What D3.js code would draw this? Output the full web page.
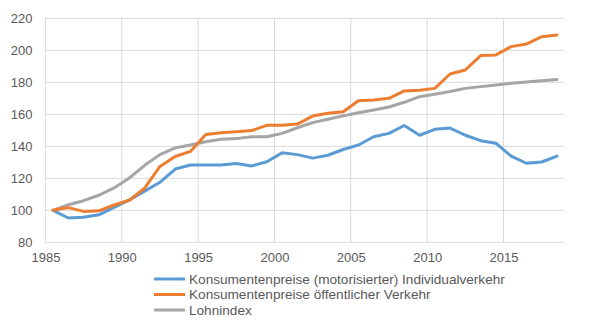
<!DOCTYPE html>
<html><head><meta charset="utf-8">
<script src="https://cdn.jsdelivr.net/npm/d3@7"></script>
<style>body{margin:0;background:#fff}svg{display:block}</style>
</head><body>
<svg id="c" width="590" height="327"></svg>
<script>
const years = d3.range(1985, 2019);
const individualverkehr = [100, 95.2, 95.6, 97.2, 101.8, 106.5, 112, 117.5, 125.8, 128.3, 128.3, 128.3, 129.2, 127.7, 130.3, 135.9, 134.8, 132.6, 134.4, 138, 140.8, 146, 148.1, 153, 146.9, 150.6, 151.4, 146.9, 143.5, 141.9, 133.9, 129.4, 130.2, 133.9];
const oeffentlich = [100, 101.7, 99.3, 99.7, 103.3, 106.3, 113.8, 127.4, 133.6, 136.8, 147.4, 148.5, 149.1, 149.8, 153.1, 153.1, 153.9, 158.9, 160.6, 161.6, 168.5, 168.9, 170, 174.6, 175, 176.2, 185.2, 187.7, 196.7, 197.1, 202.3, 203.9, 208.5, 209.6];
const lohnindex = [100, 103.5, 106, 109.4, 114, 120.2, 128.1, 134.8, 139, 140.8, 142.8, 144.4, 144.8, 146, 146, 148.1, 151.6, 154.8, 156.9, 159, 161, 162.7, 164.6, 167.5, 171, 172.5, 174.2, 176.2, 177.3, 178.3, 179.4, 180.2, 181, 181.7];
const seriesNames = ["Konsumentenpreise (motorisierter) Individualverkehr", "Konsumentenpreise öffentlicher Verkehr", "Lohnindex"];
const colors = ["#5B9BD5", "#ED7D31", "#A5A5A5"];
const xTicks = [1985, 1990, 1995, 2000, 2005, 2010, 2015];
const yTicks = [80, 100, 120, 140, 160, 180, 200, 220];

const svg = d3.select("#c");
const font = "'Liberation Sans', Arial, sans-serif";
const x = d3.scaleLinear().domain([1985, 2019]).range([45.4, 564.6]);
const y = d3.scaleLinear().domain([80, 220]).range([242.3, 18.3]);

// horizontal gridlines
svg.append("g").selectAll("line").data(yTicks).join("line")
  .attr("x1", x(1985)).attr("x2", x(2019))
  .attr("y1", d => y(d)).attr("y2", d => y(d))
  .attr("stroke", "#D9D9D9").attr("stroke-width", 1);
// vertical gridlines
svg.append("g").selectAll("line").data(xTicks).join("line")
  .attr("x1", d => x(d)).attr("x2", d => x(d))
  .attr("y1", y(80)).attr("y2", y(220))
  .attr("stroke", "#D9D9D9").attr("stroke-width", 1);

// y axis labels
const yAxis = d3.axisLeft(y).tickValues(yTicks).tickSize(0).tickPadding(13);
const gy = svg.append("g").attr("transform", `translate(${x(1985)},0)`).call(yAxis);
gy.select(".domain").remove();
gy.selectAll("text").attr("font-family", font).attr("font-size", 13).attr("fill", "#595959");

// x axis labels
const xAxis = d3.axisBottom(x).tickValues(xTicks).tickFormat(d3.format("d")).tickSize(0).tickPadding(10);
const gx = svg.append("g").attr("transform", `translate(0,${y(80)})`).call(xAxis);
gx.select(".domain").remove();
gx.selectAll("text").attr("font-family", font).attr("font-size", 13).attr("fill", "#595959");

// lines
const data = [individualverkehr, oeffentlich, lohnindex];
const line = d3.line().x((d, i) => x(years[i] + 0.5)).y(d => y(d));
const order = [2, 0, 1];
svg.append("g").selectAll("path").data(order).join("path")
  .attr("d", k => line(data[k]))
  .attr("fill", "none").attr("stroke", k => colors[k])
  .attr("stroke-width", 3).attr("stroke-linejoin", "round").attr("stroke-linecap", "round");

// legend
const lg = svg.append("g");
const rows = lg.selectAll("g").data(seriesNames).join("g")
  .attr("transform", (d, i) => `translate(0,${279 + i * 15.5})`);
rows.append("line").attr("x1", 154).attr("x2", 185).attr("y1", 0).attr("y2", 0)
  .attr("stroke", (d, i) => colors[i]).attr("stroke-width", 3);
rows.append("text").attr("x", 189).attr("y", 0).attr("dy", "0.35em")
  .attr("font-family", font).attr("font-size", 13.6).attr("fill", "#595959").text(d => d);
</script>
</body></html>
